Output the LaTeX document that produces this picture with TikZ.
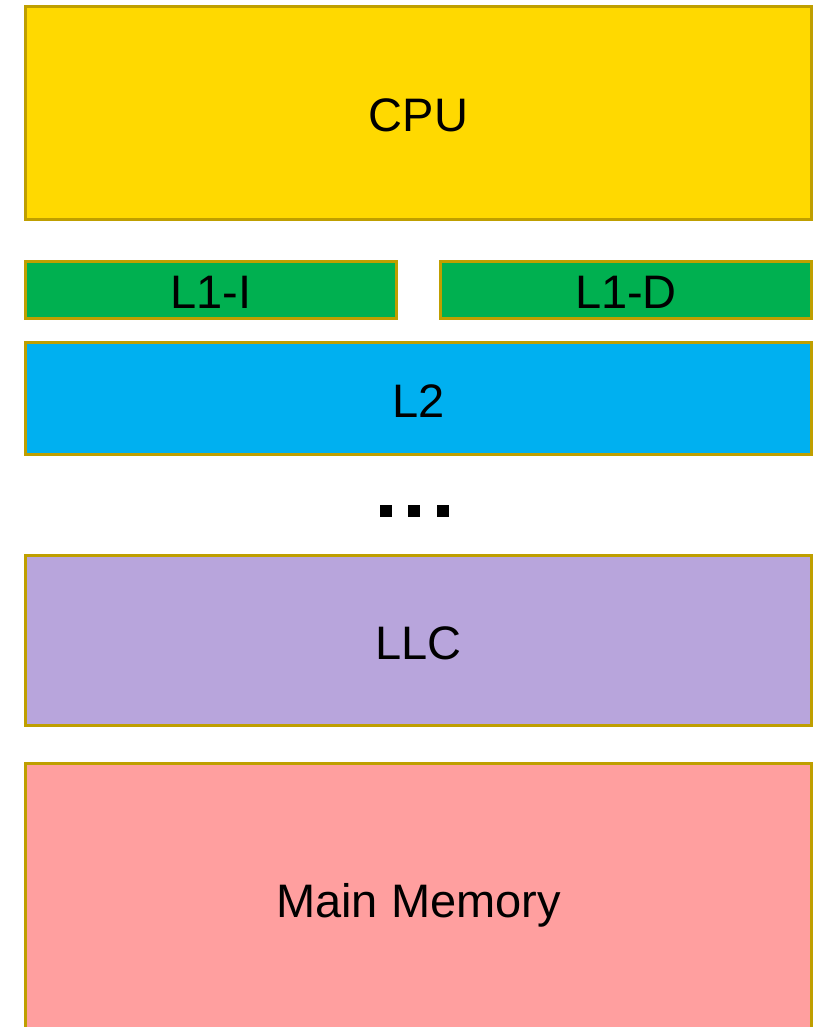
\documentclass[tikz,border=0pt]{standalone}
\usepackage{fontspec}
\setmainfont{Liberation Sans}
\definecolor{edge}{HTML}{BF9F00}
\definecolor{cpuY}{HTML}{FFD900}
\definecolor{lonegreen}{HTML}{00B050}
\definecolor{ltwoblue}{HTML}{00B0F0}
\definecolor{llcpurple}{HTML}{B8A5DC}
\definecolor{mempink}{HTML}{FF9F9F}
\tikzset{
  block/.style={draw=edge, line width=3pt, rectangle, inner sep=0pt,
    font=\fontsize{47}{56}\selectfont, text height=37.6pt, text depth=0pt},
  dotsq/.style={fill=black, rectangle, inner sep=0pt, minimum size=12pt}
}
\begin{document}
\begin{tikzpicture}[x=1pt,y=-1pt]
\useasboundingbox (0,0) rectangle (818,1027);
\begin{scope}
\clip (0,0) rectangle (818,1027);
\node[block, fill=cpuY, minimum width=786pt, minimum height=213pt] (cpu) at (418.5,113) {CPU};
\node[block, fill=lonegreen, minimum width=371pt, minimum height=57pt] (l1i) at (211,290) {L1-I};
\node[block, fill=lonegreen, minimum width=371pt, minimum height=57pt] (l1d) at (626,290) {L1-D};
\node[block, fill=ltwoblue, minimum width=786pt, minimum height=112pt] (l2) at (418.5,398.5) {L2};
\node[dotsq] (d1) at (386,511) {};
\node[dotsq] (d2) at (414,511) {};
\node[dotsq] (d3) at (443,511) {};
\node[block, fill=llcpurple, minimum width=786pt, minimum height=170pt] (llc) at (418.5,640.5) {LLC};
\node[block, fill=mempink, minimum width=786pt, minimum height=270pt] (mem) at (418.5,898.5) {Main Memory};
\end{scope}
\end{tikzpicture}
\end{document}
